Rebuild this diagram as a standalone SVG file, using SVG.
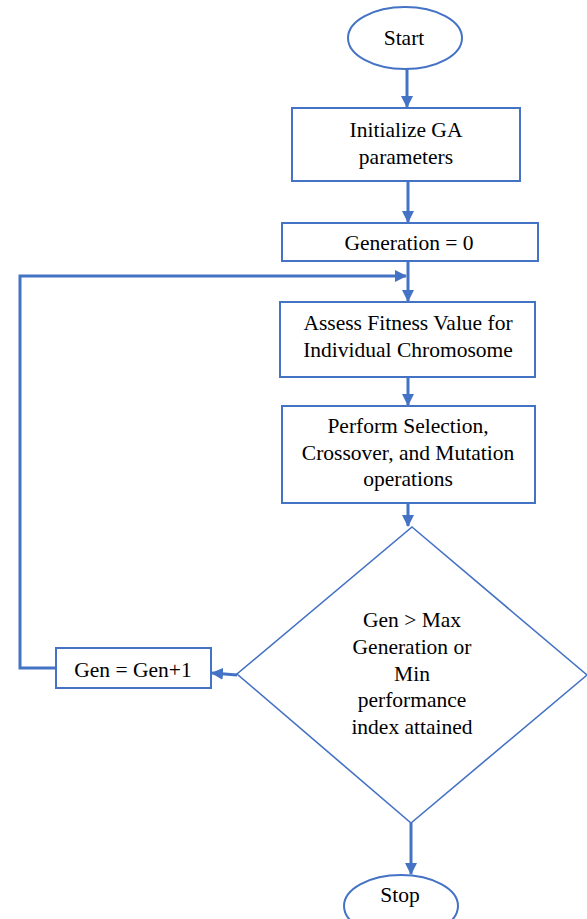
<svg xmlns="http://www.w3.org/2000/svg" width="587" height="919" viewBox="0 0 587 919">
<style>
.shape{fill:#ffffff;stroke:#4472C4;stroke-width:2}
.dia{fill:#ffffff;stroke:#4472C4;stroke-width:1.6}
.conn{fill:none;stroke:#4472C4;stroke-width:3}
text{font-family:'Liberation Serif',serif;font-size:21.5px;fill:#000000;text-anchor:middle}
</style>
<defs>
<marker id="ah" markerUnits="userSpaceOnUse" markerWidth="12" markerHeight="12" refX="11" refY="6" orient="auto">
<path d="M0,0 L12,6 L0,12 Z" fill="#4472C4"/>
</marker>
</defs>
<rect width="587" height="919" fill="#ffffff"/>
<g id="connectors">
<line class="conn" x1="407" y1="69" x2="407" y2="107" marker-end="url(#ah)"/>
<line class="conn" x1="408" y1="181" x2="408" y2="222" marker-end="url(#ah)"/>
<line class="conn" x1="408" y1="261" x2="408" y2="301" marker-end="url(#ah)"/>
<line class="conn" x1="408" y1="377" x2="408" y2="405" marker-end="url(#ah)"/>
<line class="conn" x1="408" y1="503" x2="408" y2="526" marker-end="url(#ah)"/>
<line class="conn" x1="411" y1="823" x2="411" y2="874" marker-end="url(#ah)"/>
<line class="conn" x1="237" y1="675" x2="212" y2="673" marker-end="url(#ah)"/>
<polyline class="conn" points="56,668 20,668 20,276 406,276" marker-end="url(#ah)"/>
</g>
<g id="start">
<ellipse class="shape" cx="405" cy="38" rx="57" ry="31"/>
<text x="404" y="45">Start</text>
</g>
<g id="init">
<rect class="shape" x="292" y="108" width="228" height="73"/>
<text x="406" y="137">Initialize GA</text>
<text x="406" y="164">parameters</text>
</g>
<g id="gen0">
<rect class="shape" x="282" y="223" width="256" height="38"/>
<text x="409" y="250">Generation = 0</text>
</g>
<g id="assess">
<rect class="shape" x="280" y="302" width="255" height="75"/>
<text x="408" y="330">Assess Fitness Value for</text>
<text x="408" y="357">Individual Chromosome</text>
</g>
<g id="perform">
<rect class="shape" x="282" y="406" width="253" height="97"/>
<text x="408" y="433">Perform Selection,</text>
<text x="408" y="460">Crossover, and Mutation</text>
<text x="408" y="486">operations</text>
</g>
<g id="decision">
<polygon class="dia" points="412,527 587,675 411,823 237,674"/>
<text x="412" y="627">Gen &gt; Max</text>
<text x="412" y="654">Generation or</text>
<text x="412" y="681">Min</text>
<text x="412" y="707">performance</text>
<text x="412" y="734">index attained</text>
</g>
<g id="increment">
<rect class="shape" x="56" y="648" width="155" height="40"/>
<text x="133" y="677">Gen = Gen+1</text>
</g>
<g id="stop">
<ellipse class="shape" cx="401" cy="906" rx="57" ry="31"/>
<text x="400" y="902">Stop</text>
</g>
</svg>
